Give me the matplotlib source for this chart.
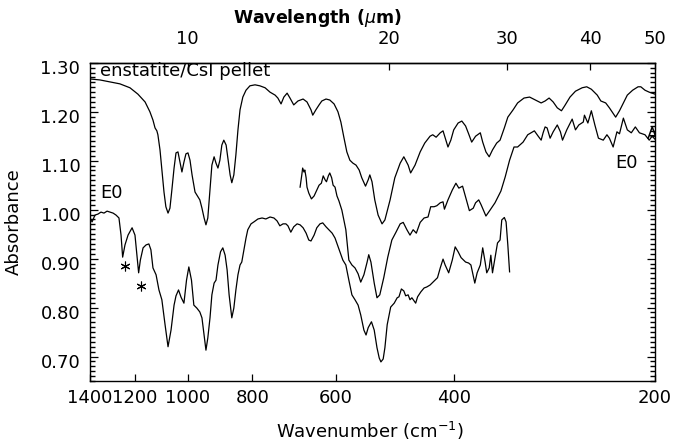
import numpy as np
import matplotlib
matplotlib.use("Agg")
import matplotlib.pyplot as plt
from matplotlib.ticker import FixedLocator, FixedFormatter, NullLocator, FormatStrFormatter
from matplotlib.transforms import ScaledTranslation

# ---- spectra: wavenumber (cm^-1) and absorbance ----
top_wavenumber = [
    1400, 1353, 1307, 1263, 1220, 1187, 1158, 1139, 1127, 1119,
    1112, 1108, 1100, 1093, 1085, 1078, 1070, 1063, 1056, 1048,
    1041, 1034, 1027, 1020, 1013, 1006, 999, 992, 985, 975,
    965, 959, 952, 945, 939, 933, 926, 920, 913, 907,
    901, 895, 889, 883, 876, 870, 864, 859, 853, 847,
    841, 835, 827, 818, 807, 793, 780, 766, 753, 740,
    733, 725, 718, 710, 703, 694, 684, 672, 663, 654,
    650, 643, 636, 630, 621, 613, 604, 596, 590, 584,
    578, 572, 566, 560, 554, 549, 542, 537, 534, 530,
    525, 519, 512, 507, 498, 490, 481, 475, 468, 464,
    457, 449, 442, 434, 430, 425, 419, 415, 411, 408,
    404, 400, 394, 389, 384, 380, 376, 371, 365, 362,
    358, 354, 350, 345, 341, 336, 332, 326, 321, 314,
    308, 302, 296, 292, 288, 284, 280, 276, 273, 268,
    263, 257, 253, 249, 244, 241, 237, 234, 230, 229,
    226, 223, 220, 216, 212, 210, 207, 204, 200,
]
top_absorbance = [
    1.267, 1.265, 1.261, 1.257, 1.249, 1.236, 1.220, 1.200, 1.183, 1.167,
    1.161, 1.153, 1.122, 1.081, 1.036, 1.006, 0.993, 1.003, 1.040, 1.085,
    1.116, 1.118, 1.097, 1.077, 1.097, 1.114, 1.116, 1.101, 1.071, 1.036,
    1.026, 1.020, 1.003, 0.983, 0.969, 0.983, 1.040, 1.091, 1.108, 1.095,
    1.085, 1.101, 1.132, 1.142, 1.132, 1.101, 1.071, 1.055, 1.071, 1.112,
    1.163, 1.204, 1.230, 1.244, 1.253, 1.255, 1.253, 1.249, 1.240, 1.234,
    1.228, 1.216, 1.230, 1.238, 1.228, 1.214, 1.222, 1.226, 1.220, 1.204,
    1.193, 1.204, 1.214, 1.222, 1.226, 1.224, 1.216, 1.200, 1.179, 1.148,
    1.118, 1.101, 1.095, 1.091, 1.081, 1.065, 1.048, 1.061, 1.071, 1.057,
    1.020, 0.989, 0.971, 0.979, 1.020, 1.065, 1.095, 1.108, 1.091, 1.075,
    1.091, 1.118, 1.136, 1.150, 1.153, 1.148, 1.157, 1.161, 1.142, 1.128,
    1.142, 1.163, 1.177, 1.181, 1.171, 1.155, 1.138, 1.150, 1.157, 1.138,
    1.118, 1.108, 1.122, 1.136, 1.142, 1.167, 1.189, 1.204, 1.218, 1.228,
    1.230, 1.224, 1.218, 1.222, 1.228, 1.220, 1.208, 1.202, 1.212, 1.230,
    1.242, 1.249, 1.251, 1.246, 1.234, 1.222, 1.218, 1.208, 1.193, 1.189,
    1.202, 1.218, 1.234, 1.244, 1.251, 1.251, 1.244, 1.240, 1.236,
]

mid_wavenumber = [
    679, 675, 673, 670, 668, 665, 663, 659, 653, 647,
    641, 636, 631, 627, 623, 620, 616, 613, 609, 606,
    602, 598, 594, 588, 580, 574, 568, 562, 556, 551,
    545, 539, 536, 532, 526, 521, 516, 509, 502, 495,
    488, 481, 476, 470, 465, 460, 455, 449, 443, 437,
    433, 428, 424, 419, 415, 413, 408, 402, 397, 393,
    388, 384, 379, 374, 371, 367, 364, 358, 353, 347,
    340, 335, 330, 325, 321, 315, 310, 303, 299, 296,
    294, 292, 290, 287, 284, 280, 277, 275, 271, 266,
    263, 260, 256, 255, 252, 249, 246, 243, 239, 236,
    234, 231, 228, 226, 223, 220, 217, 214, 211, 207,
    204, 202, 200,
]
mid_absorbance = [
    1.046, 1.071, 1.085, 1.077, 1.081, 1.065, 1.046, 1.034, 1.022, 1.028,
    1.040, 1.050, 1.054, 1.069, 1.061, 1.057, 1.069, 1.075, 1.065, 1.050,
    1.046, 1.028, 1.018, 0.999, 0.959, 0.897, 0.887, 0.881, 0.869, 0.852,
    0.867, 0.893, 0.908, 0.893, 0.850, 0.820, 0.826, 0.861, 0.903, 0.938,
    0.954, 0.971, 0.974, 0.959, 0.948, 0.959, 0.952, 0.974, 0.983, 0.985,
    1.006, 1.006, 1.008, 1.014, 1.016, 1.001, 1.020, 1.040, 1.054, 1.044,
    1.048, 1.026, 0.998, 1.003, 1.014, 1.020, 1.010, 0.987, 0.999, 1.014,
    1.038, 1.067, 1.101, 1.128, 1.128, 1.138, 1.153, 1.161, 1.150, 1.142,
    1.157, 1.169, 1.167, 1.146, 1.159, 1.173, 1.159, 1.142, 1.163, 1.185,
    1.163, 1.173, 1.179, 1.193, 1.177, 1.202, 1.173, 1.146, 1.142, 1.153,
    1.146, 1.128, 1.159, 1.155, 1.187, 1.163, 1.157, 1.169, 1.157, 1.153,
    1.142, 1.150, 1.144,
]

bot_wavenumber = [
    1400, 1390, 1376, 1362, 1348, 1334, 1320, 1307, 1293, 1280,
    1267, 1258, 1251, 1241, 1228, 1211, 1199, 1191, 1184, 1177,
    1166, 1154, 1143, 1135, 1127, 1115, 1104, 1093, 1081, 1070,
    1059, 1048, 1041, 1032, 1023, 1013, 1004, 996, 987, 979,
    969, 959, 952, 945, 939, 933, 926, 920, 913, 907,
    901, 893, 886, 879, 873, 867, 859, 853, 847, 841,
    835, 830, 824, 818, 813, 804, 796, 785, 774, 764,
    753, 743, 735, 728, 720, 713, 708, 701, 694, 686,
    679, 672, 665, 659, 654, 647, 641, 634, 628, 621,
    615, 608, 602, 597, 592, 586, 580, 574, 568, 562,
    556, 551, 545, 541, 537, 531, 526, 521, 517, 514,
    510, 507, 503, 497, 491, 486, 483, 479, 475, 472,
    468, 465, 462, 456, 453, 448, 443, 439, 434, 428,
    423, 419, 415, 412, 407, 402, 398, 394, 390, 388,
    384, 380, 377, 372, 369, 365, 362, 359, 357, 354,
    352, 350, 347, 344, 341, 339, 336, 334, 332, 330,
]
bot_absorbance = [
    0.983, 0.975, 0.989, 0.991, 0.995, 0.993, 0.997, 0.995, 0.993, 0.989,
    0.983, 0.948, 0.903, 0.928, 0.948, 0.963, 0.948, 0.908, 0.871, 0.897,
    0.922, 0.928, 0.930, 0.918, 0.881, 0.867, 0.836, 0.816, 0.765, 0.720,
    0.754, 0.805, 0.824, 0.836, 0.821, 0.809, 0.856, 0.883, 0.856, 0.805,
    0.799, 0.791, 0.779, 0.744, 0.713, 0.738, 0.779, 0.826, 0.850, 0.856,
    0.887, 0.914, 0.922, 0.907, 0.877, 0.826, 0.779, 0.799, 0.836, 0.867,
    0.887, 0.893, 0.918, 0.942, 0.959, 0.971, 0.975, 0.981, 0.983, 0.981,
    0.985, 0.983, 0.977, 0.967, 0.971, 0.971, 0.967, 0.954, 0.965, 0.971,
    0.969, 0.963, 0.952, 0.938, 0.936, 0.948, 0.963, 0.971, 0.973, 0.965,
    0.959, 0.952, 0.942, 0.928, 0.914, 0.897, 0.887, 0.856, 0.826, 0.816,
    0.805, 0.785, 0.754, 0.744, 0.759, 0.771, 0.754, 0.718, 0.697, 0.689,
    0.695, 0.718, 0.765, 0.801, 0.809, 0.820, 0.822, 0.838, 0.834, 0.824,
    0.826, 0.816, 0.820, 0.809, 0.822, 0.832, 0.840, 0.842, 0.846, 0.854,
    0.861, 0.881, 0.899, 0.887, 0.871, 0.897, 0.924, 0.914, 0.902, 0.899,
    0.893, 0.891, 0.887, 0.850, 0.871, 0.887, 0.922, 0.893, 0.871, 0.881,
    0.907, 0.871, 0.901, 0.932, 0.938, 0.979, 0.984, 0.975, 0.928, 0.873,
]

# bands marked with an asterisk
star_wavenumber = [1241, 1173]
star_absorbance = [0.885, 0.844]

wavenumber_ticks = [1400, 1200, 1000, 800, 600, 400, 200]
wavenumber_labels = ["1400", "1200", "1000", "800", "600", "400", "200"]
wavelength_ticks = [10, 20, 30, 40, 50]
wavelength_labels = ["10", "20", "30", "40", "50"]
absorbance_ticks = [0.70, 0.80, 0.90, 1.00, 1.10, 1.20, 1.30]
absorbance_minor = [round(0.65 + 0.01 * i, 2) for i in range(66)
                    if (i + 5) % 10 != 0]

plt.rcParams["font.family"] = ["DejaVu Sans"]
FS = 13

fig = plt.figure(figsize=(6.74, 4.44), dpi=100)
ax = fig.add_axes([0.1335, 0.14189, 0.83828, 0.71667])

for wn, ab in [(top_wavenumber, top_absorbance),
               (mid_wavenumber, mid_absorbance),
               (bot_wavenumber, bot_absorbance)]:
    ax.plot(wn, ab, color="black", lw=0.9, solid_joinstyle="round")

ax.plot(star_wavenumber, star_absorbance, linestyle="none", marker=(6, 2, 0),
        markersize=7, markeredgewidth=0.8, color="black")

ax.set_xscale("log")
ax.set_xlim(1400, 200)
ax.set_ylim(0.65, 1.30)

ax.xaxis.set_major_locator(FixedLocator(wavenumber_ticks))
ax.xaxis.set_major_formatter(FixedFormatter(wavenumber_labels))
ax.xaxis.set_minor_locator(NullLocator())
ax.yaxis.set_major_locator(FixedLocator(absorbance_ticks))
ax.yaxis.set_major_formatter(FormatStrFormatter("%.2f"))
ax.yaxis.set_minor_locator(FixedLocator(absorbance_minor))

ax.tick_params(axis="x", which="both", direction="in", top=False, bottom=True,
               length=5, width=0.9, pad=6, labelsize=FS)
ax.tick_params(axis="y", which="major", direction="in", left=True, right=True,
               length=6, width=0.9, pad=7, labelsize=FS)
ax.tick_params(axis="y", which="minor", direction="in", left=True, right=True,
               length=3.5, width=1.0)
for sp in ax.spines.values():
    sp.set_linewidth(1.0)

# small downward nudge of the absorbance labels
shift = ScaledTranslation(0, -4 / 100, fig.dpi_scale_trans)
for t in ax.yaxis.get_major_ticks():
    t.label1.set_transform(t.label1.get_transform() + shift)

to_wavelength = lambda w: 1e4 / np.asarray(w, dtype=float)
sec = ax.secondary_xaxis("top", functions=(to_wavelength, to_wavelength))
sec.xaxis.set_major_locator(FixedLocator(wavelength_ticks))
sec.xaxis.set_major_formatter(FixedFormatter(wavelength_labels))
sec.xaxis.set_minor_locator(NullLocator())
sec.tick_params(axis="x", which="both", direction="in", length=5, width=0.9,
                pad=11, labelsize=FS)
sec.spines["top"].set_linewidth(1.0)

# annotations inside the frame
ax.text(0.0177, 0.9727, "enstatite/CsI pellet", transform=ax.transAxes,
        ha="left", va="center", fontsize=FS)
ax.text(0.0389, 0.5908, "E0", transform=ax.transAxes,
        ha="center", va="center", fontsize=FS)
ax.text(0.9504, 0.6851, "E0", transform=ax.transAxes,
        ha="center", va="center", fontsize=FS)
ax.text(0.9858, 0.7731, "A", transform=ax.transAxes,
        ha="left", va="center", fontsize=11, clip_on=True)

# axis titles
fig.text(13.5 / 674, 0.5, "Absorbance", rotation=90, ha="center", va="center",
         fontsize=FS)
fig.text(370 / 674, 1 - 431 / 444, "Wavenumber (cm$^{-1}$)", ha="center",
         va="center", fontsize=FS)
fig.text(317 / 674, 1 - 18 / 444, r"Wavelength ($\mu$m)", ha="center",
         va="center", fontsize=12.5, fontweight="bold")

fig.savefig("out.png", dpi=100)
